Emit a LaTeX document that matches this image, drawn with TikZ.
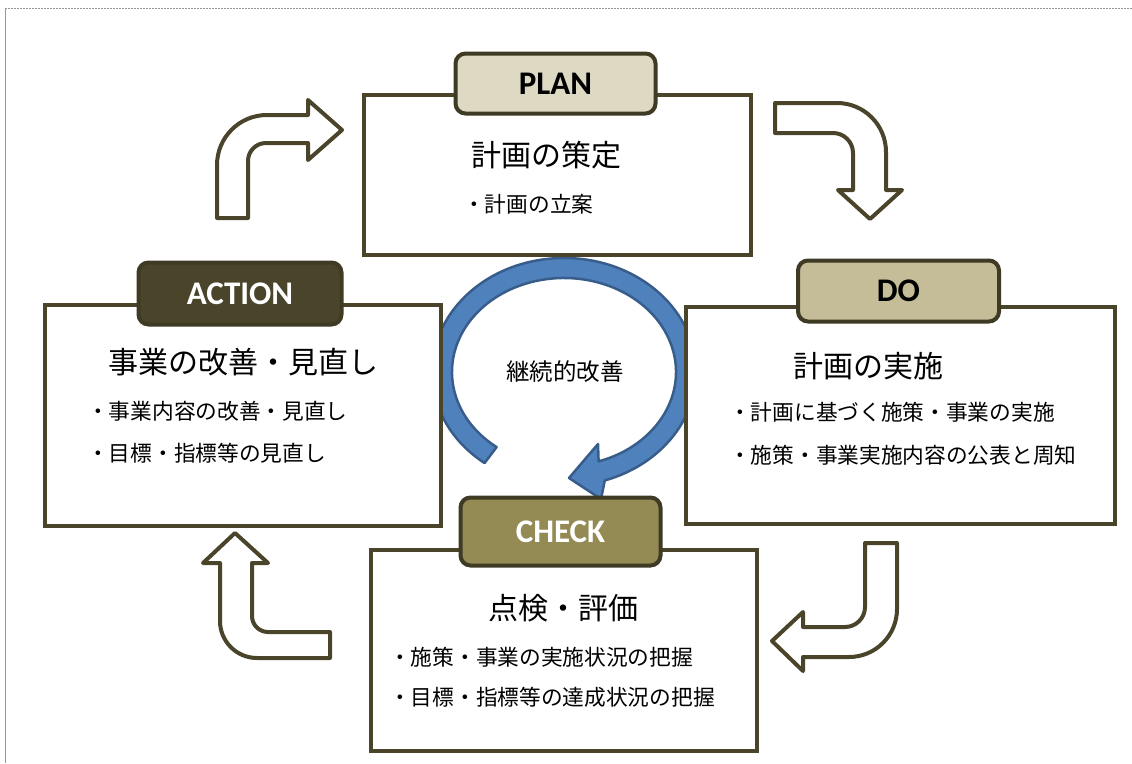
\documentclass[tikz,border=0pt]{standalone}
\usepackage{fontspec}
\setmainfont{Carlito}
\newfontfamily\jp{Noto Sans CJK JP}
\newfontfamily\lbl{Carlito}
\usetikzlibrary{calc}
\definecolor{boxline}{RGB}{74,69,42}
\definecolor{labline}{RGB}{62,58,36}
\definecolor{planfill}{RGB}{221,217,195}
\definecolor{dofill}{RGB}{196,189,151}
\definecolor{checkfill}{RGB}{148,138,84}
\definecolor{actionfill}{RGB}{74,69,42}
\definecolor{cblue}{RGB}{79,129,189}
\definecolor{cbdark}{RGB}{56,93,138}
\definecolor{frame}{RGB}{150,150,150}
\tikzset{
  mainbox/.style={draw=boxline, line width=4pt, fill=white},
  lab/.style={draw=labline, line width=4pt, rounded corners=10pt, inner sep=0pt,
    font=\lbl\bfseries\fontsize{33}{33}\selectfont},
  bent/.style={draw=boxline, line width=4pt, fill=white, line join=round},
  ttl/.style={inner sep=0pt, font=\jp\fontsize{30}{30}\selectfont},
  bul/.style={inner sep=0pt, anchor=west, font=\jp\fontsize{21.7}{21.7}\selectfont},
}
\begin{document}
\begin{tikzpicture}[x=1pt,y=1pt]
\useasboundingbox (0,0) rectangle (1132,-763);
% page frame
\draw[frame, line width=1pt, dash pattern=on 2pt off 1pt] (5,-8) -- (1132,-8);
\draw[frame, line width=1pt] (5,-8) -- (5,-763);

% circular arrow (behind the boxes)
\coordinate (c) at (564,-372);
\path[fill=cblue, draw=cbdark, line width=2.5pt, line join=round]
  ($(c)+(233:132pt and 114pt)$) arc[start angle=233, end angle=-72, x radius=132pt, y radius=114pt]
  -- (601,-499) -- (569,-478) -- (598,-444)
  -- ($(c)+(-72:112pt and 94pt)$) arc[start angle=-72, end angle=233, x radius=112pt, y radius=94pt]
  -- cycle;

% main boxes
\node[mainbox, minimum width=387pt, minimum height=160pt] (planbox) at (557.5,-175) {};
\node[mainbox, minimum width=429pt, minimum height=217pt] (dobox) at (900.5,-415.5) {};
\node[mainbox, minimum width=396pt, minimum height=221pt] (actbox) at (243,-415.5) {};
\node[mainbox, minimum width=386pt, minimum height=201pt] (chkbox) at (564,-650.5) {};

% bent arrows
\path[bent] (217,-218) -- (217,-165) arc[start angle=180, end angle=90, radius=50pt]
  -- (308,-115) -- (308,-100) -- (342,-130) -- (308,-160) -- (308,-143) -- (266,-143)
  arc[start angle=90, end angle=180, radius=18pt] -- (248,-218) -- cycle;
\path[bent] (775,-103) -- (837,-103) arc[start angle=90, end angle=0, radius=49pt]
  -- (886,-190) -- (902,-190) -- (870,-219) -- (838,-190) -- (853,-190) -- (853,-153)
  arc[start angle=0, end angle=90, radius=20pt] -- (775,-133) -- cycle;
\path[bent] (865,-543) -- (897,-543) -- (897,-609) arc[start angle=0, end angle=-90, radius=48pt]
  -- (803,-657) -- (803,-671) -- (772,-641) -- (803,-612) -- (803,-627) -- (845,-627)
  arc[start angle=-90, end angle=0, radius=20pt] -- cycle;
\path[bent] (235,-533) -- (268,-563) -- (252,-563) -- (252,-616)
  arc[start angle=180, end angle=270, radius=16pt] -- (330,-632) -- (330,-658) -- (257,-658)
  arc[start angle=270, end angle=180, radius=37pt] -- (220,-563) -- (203,-563) -- cycle;

\node[inner sep=0pt, font=\jp\fontsize{23.5}{23.5}\selectfont] (kaizen) at (565,-372) {継続的改善};

% labels
\node[lab, fill=planfill, minimum width=200pt, minimum height=60pt] (plan) at (555.5,-83.5) {PLAN};
\node[lab, fill=dofill, minimum width=201pt, minimum height=61pt] (do) at (898.5,-291) {DO};
\node[lab, fill=actionfill, text=white, minimum width=203pt, minimum height=62pt] (action) at (240,-293.5) {ACTION};
\node[lab, fill=checkfill, text=white, minimum width=200pt, minimum height=68pt] (check) at (560.5,-531.5) {CHECK};

% texts
\node[ttl] (plant) at (546,-155) {計画の策定};
\node[bul] (planb1) at (463,-204) {・計画の立案};

\node[ttl] (dot) at (868,-366) {計画の実施};
\node[bul] (dob1) at (729,-412) {・計画に基づく施策・事業の実施};
\node[bul] (dob2) at (729,-455) {・施策・事業実施内容の公表と周知};

\node[ttl] (actt) at (243,-362) {事業の改善・見直し};
\node[bul] (actb1) at (87,-411) {・事業内容の改善・見直し};
\node[bul] (actb2) at (87,-453) {・目標・指標等の見直し};

\node[ttl] (chkt) at (563,-608) {点検・評価};
\node[bul] (chkb1) at (389,-657) {・施策・事業の実施状況の把握};
\node[bul] (chkb2) at (389,-697) {・目標・指標等の達成状況の把握};
\end{tikzpicture}
\end{document}
